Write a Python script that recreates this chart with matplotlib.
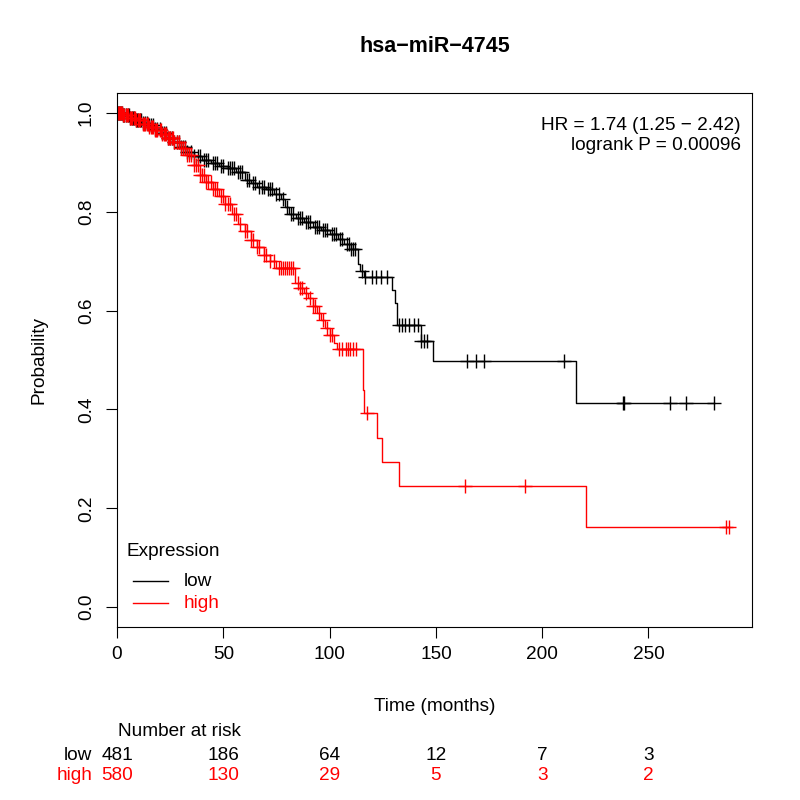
import numpy as np
import matplotlib
matplotlib.use("Agg")
import matplotlib.pyplot as plt
from matplotlib.transforms import blended_transform_factory

plt.rcParams['font.family'] = ['Liberation Sans', 'DejaVu Sans']

# ---------------- data ----------------
title = "hsa\u2212miR\u22124745"
groups = ["low", "high"]
colors = ["black", "#FF0000"]

low_times = [0, 3, 6, 9, 12, 15, 18, 21, 24, 27, 30, 33, 36, 40, 44, 48, 52, 56, 60, 63, 66,
             70, 74, 77, 79, 81, 84, 88, 92, 96, 100, 104, 107, 110, 113.5, 114.5, 116,
             129.4, 131.0, 131.8, 142.8, 148.8, 215.9]
low_surv = [1.0, 0.995, 0.99, 0.985, 0.98, 0.975, 0.968, 0.96, 0.95, 0.94, 0.93, 0.92, 0.912,
            0.905, 0.898, 0.893, 0.888, 0.88, 0.865, 0.858, 0.85, 0.845, 0.835, 0.825, 0.81,
            0.795, 0.787, 0.78, 0.77, 0.762, 0.755, 0.745, 0.735, 0.725, 0.695, 0.68, 0.667,
            0.642, 0.616, 0.571, 0.539, 0.498, 0.414]
low_end = 280.8
low_censor = [0.5, 1, 1.5, 2, 2.5, 3, 3.5, 4, 5, 5.5, 6, 7, 7.5, 8, 9, 9.5, 10, 11, 11.5, 12,
              13, 14, 15, 16, 17, 18, 19, 20, 21, 22, 23, 24, 25, 26, 27, 28, 29, 30, 31, 32,
              33, 35, 36, 38, 39, 41, 42, 43, 45, 46, 47, 49, 50, 52, 53, 54, 55, 57, 58, 59,
              61, 62, 64, 65, 67, 68, 69, 71, 72, 73, 75, 76, 78, 80, 82, 83, 85, 86, 87, 89,
              90, 91, 93, 94, 95, 97, 98, 99, 101, 102, 103, 105, 106, 108, 109, 110, 111,
              112, 115.3, 116.8, 120, 121.6, 124, 127.1, 132.5, 134.2, 135.7, 137.3, 139.6,
              141.5, 143.1, 144.3, 145.9, 164.8, 168.7, 172.6, 210.4, 238.0, 238.5, 260.2,
              267.7, 280.8]

high_times = [0, 3, 6, 9, 12, 15, 18, 21, 24, 27, 30, 33, 36, 39, 42, 45, 48, 51, 54, 57, 60,
              63, 66, 69, 72, 75, 83.8, 86, 88, 90, 92, 94, 96, 98, 100, 102, 103.5,
              115.6, 116.2, 122.4, 124.7, 132.5, 220.6]
high_surv = [1.0, 0.995, 0.99, 0.985, 0.978, 0.972, 0.965, 0.958, 0.95, 0.94, 0.928, 0.915,
             0.895, 0.875, 0.86, 0.845, 0.832, 0.815, 0.795, 0.775, 0.76, 0.742, 0.728, 0.712,
             0.7, 0.686, 0.655, 0.645, 0.635, 0.625, 0.61, 0.595, 0.58, 0.565, 0.55, 0.535,
             0.523, 0.44, 0.392, 0.343, 0.294, 0.246, 0.163]
high_end = 287.7
high_censor = [0.5, 1, 1.5, 2, 2.5, 3, 3.5, 4, 4.5, 5, 6, 6.5, 7, 8, 8.5, 9, 10, 10.5, 11, 12,
               12.5, 13, 14, 14.5, 15, 16, 16.5, 17, 18, 18.5, 19, 20, 20.5, 21, 22, 22.5,
               23, 24, 24.5, 25, 26, 26.5, 27, 28, 29, 30, 31, 32, 33, 34, 35, 36, 37, 38,
               39, 40, 41, 42, 43, 44, 45, 46, 47, 49, 50, 51, 52, 53, 55, 56, 58, 60, 61,
               63, 64, 66, 67, 69, 70, 72, 74, 76, 77, 78, 79, 80, 81, 82, 83, 85, 86, 87, 89,
               91, 92, 93, 95, 97, 99, 100, 101, 104.5, 106, 107.5, 108.5, 109.5, 111, 112.5,
               117.5, 163.7, 192.0, 286.3, 287.7]

risk_times = [0, 50, 100, 150, 200, 250]
risk_low = [481, 186, 64, 12, 7, 3]
risk_high = [580, 130, 29, 5, 3, 2]

hr_text = "HR = 1.74 (1.25 \u2212 2.42)"
p_text = "logrank P = 0.00096"
x_ticks = [0, 50, 100, 150, 200, 250]
y_ticks = [0.0, 0.2, 0.4, 0.6, 0.8, 1.0]

# ---------------- plot ----------------
W = H = 800
fig = plt.figure(figsize=(8, 8), dpi=100)
ax = fig.add_axes([117 / W, 1 - 627 / H, (752 - 117) / W, (627 - 93) / H])

FS = 13.7

def draw_curve(times, surv, end, censor, color):
    t = np.array(times + [end], dtype=float)
    s = np.array(surv + [surv[-1]], dtype=float)
    ax.step(t, s, where="post", color=color, lw=1.0)
    tc = np.array(censor, dtype=float)
    idx = np.searchsorted(np.array(times, dtype=float), tc, side="right") - 1
    sc = np.array(surv)[idx]
    ax.plot(tc, sc, linestyle="none", marker="+", color=color, markersize=9.5,
            markeredgewidth=1.0)

draw_curve(low_times, low_surv, low_end, low_censor, colors[0])
draw_curve(high_times, high_surv, high_end, high_censor, colors[1])

ax.set_xlim(0, 298.7)
ax.set_ylim(-0.04, 1.04)
ax.set_xticks(x_ticks)
ax.set_xticklabels([str(v) for v in x_ticks], fontsize=FS)
ax.set_yticks(y_ticks)
ax.set_yticklabels([f"{v:.1f}" for v in y_ticks], fontsize=FS, rotation=90, va="center")
ax.tick_params(direction="out", length=8, width=0.8, pad=6)
ax.tick_params(axis="y", pad=8)
for sp in ax.spines.values():
    sp.set_linewidth(0.8)

ax.set_xlabel("Time (months)", fontsize=FS, labelpad=25)
ax.set_ylabel("Probability", fontsize=FS, labelpad=22)
fig.text(434.5 / W, 1 - 47 / H, title, ha="center", va="center", fontsize=15.5,
         fontweight="bold")

ax.text(0.982, 0.955, hr_text + "\n" + p_text, transform=ax.transAxes, ha="right",
        va="top", fontsize=FS, linespacing=1.2)

# legend
fig.text(127 / W, 1 - 551 / H, "Expression", ha="left", va="center", fontsize=FS)
for i, (g, c) in enumerate(zip(groups, colors)):
    yy = 1 - (581 + 22 * i) / H
    fig.add_artist(plt.Line2D([133 / W, 168 / W], [yy, yy], color=c, lw=1.0))
    fig.text(184 / W, yy, g, ha="left", va="center", fontsize=FS, color=c)

# number at risk
trans = blended_transform_factory(ax.transData, fig.transFigure)
fig.text(118 / W, 1 - 731 / H, "Number at risk", ha="left", va="center", fontsize=FS)
for row, (g, c, vals) in enumerate(zip(groups, colors, [risk_low, risk_high])):
    yy = 1 - (756 + 20 * row) / H
    fig.text(92 / W, yy, g, ha="right", va="center", fontsize=FS, color=c)
    for t, v in zip(risk_times, vals):
        ax.text(t, yy, str(v), transform=trans, ha="center", va="center", fontsize=FS,
                color=c, clip_on=False)

fig.savefig("out.png", dpi=100)
